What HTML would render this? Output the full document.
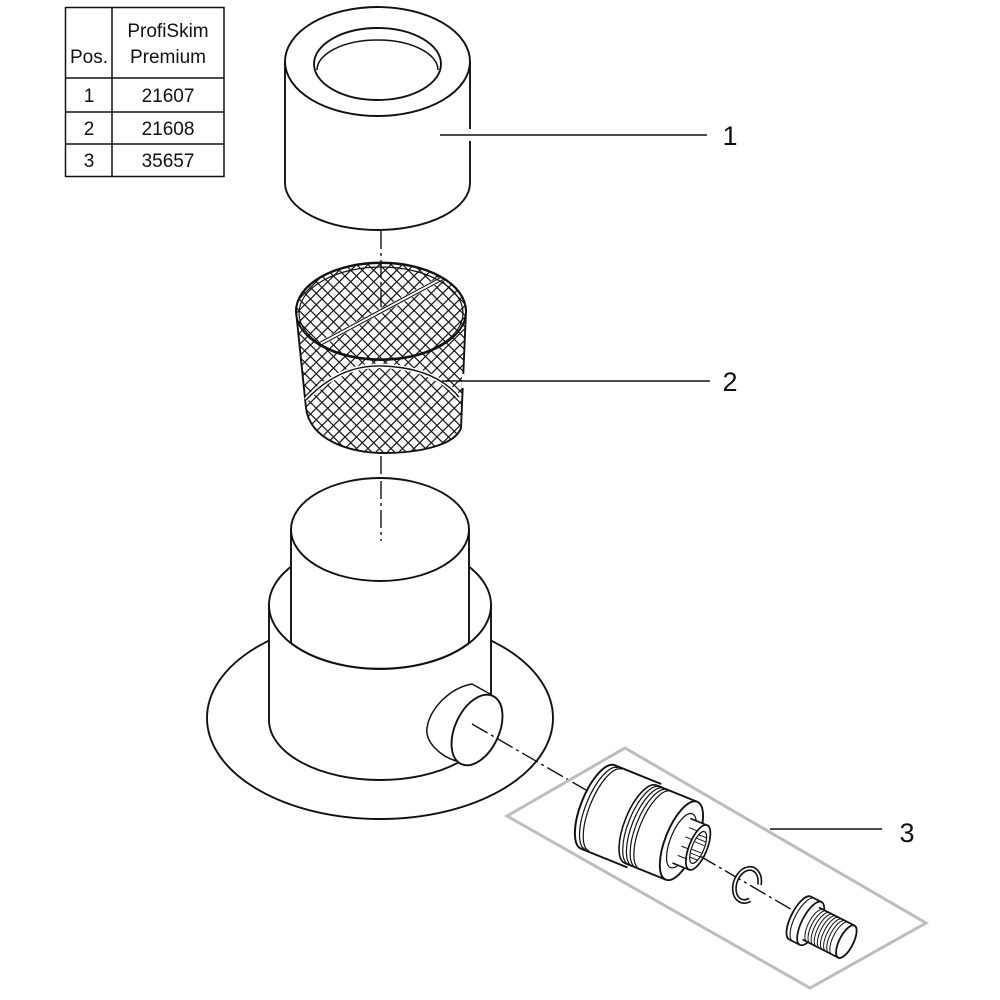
<!DOCTYPE html>
<html><head><meta charset="utf-8"><style>
html,body{margin:0;padding:0;background:#fff;}
svg{display:block;}
text{font-family:"Liberation Sans",Arial,sans-serif;fill:#111;}
</style></head><body>
<svg width="1000" height="1000" viewBox="0 0 1000 1000" xmlns="http://www.w3.org/2000/svg">
<defs>
<pattern id="h" width="11.5" height="11.5" patternUnits="userSpaceOnUse">
<path d="M-1,-1 L12.5,12.5 M12.5,-1 L-1,12.5" stroke="#1a1a1a" stroke-width="1.25" fill="none"/>
</pattern>
</defs>
<rect width="1000" height="1000" fill="#fff"/>

<!-- Table -->
<g stroke="#111" stroke-width="1.5" fill="none">
<rect x="65.5" y="7.5" width="158.5" height="169"/>
<line x1="112" y1="7.5" x2="112" y2="176.5"/>
<line x1="65.5" y1="78" x2="224" y2="78"/>
<line x1="65.5" y1="112" x2="224" y2="112"/>
<line x1="65.5" y1="144" x2="224" y2="144"/>
</g>
<g font-size="19" text-anchor="middle">
<text x="89" y="63">Pos.</text>
<text x="168" y="37">ProfiSkim</text>
<text x="168" y="63">Premium</text>
<text x="89" y="102">1</text><text x="168" y="102">21607</text>
<text x="89" y="135">2</text><text x="168" y="135">21608</text>
<text x="89" y="167">3</text><text x="168" y="167">35657</text>
</g>

<!-- Axis vertical -->
<g stroke="#111" stroke-width="1.4" stroke-dasharray="18 4 3 4" fill="none">
<line x1="381" y1="231" x2="381" y2="314"/>
<line x1="381" y1="456" x2="381" y2="541"/>
</g>

<!-- Part 1: cylinder -->
<g stroke="#111" stroke-width="1.9" fill="#fff">
<path d="M285,61.5 L285,183 A92.5,47 0 0 0 470,183 L470,61.5 Z" stroke="none"/>
<path d="M285,61.5 L285,183 A92.5,47 0 0 0 470,183 L470,141" fill="none"/>
<line x1="470" y1="61.5" x2="470" y2="129"/>
<ellipse cx="377.5" cy="61.5" rx="92.5" ry="54.5"/>
<ellipse cx="377.5" cy="64" rx="63.5" ry="36"/>
<path d="M317,70 A60.5,30 0 0 1 438,70" fill="none" stroke-width="1.5"/>
</g>
<line x1="440" y1="135" x2="707" y2="135" stroke="#111" stroke-width="1.6"/>
<text x="730" y="145" font-size="27" text-anchor="middle">1</text>

<!-- Part 2: mesh -->
<g stroke="#111" fill="none">
<path d="M296,311 A85,48.5 0 0 1 466,311 L461,428 C455,445 420,453 383,453 C350,453 310,440 306,408 Z" fill="url(#h)" stroke-width="1.9"/>
<line x1="464" y1="374" x2="464" y2="388" stroke="#fff" stroke-width="4"/>
<path d="M306,400 Q340,364 383,366 Q435,368 459,397" stroke="#fff" stroke-width="4.5"/>
<path d="M306,400 Q340,364 383,366 Q435,368 459,397" stroke-width="1.4"/>
<line x1="318" y1="345" x2="443" y2="278" stroke="#fff" stroke-width="5"/>
<line x1="317.3" y1="343.7" x2="442.3" y2="276.7" stroke-width="1.1"/>
<line x1="318.7" y1="346.3" x2="443.7" y2="279.3" stroke-width="1.1"/>
<ellipse cx="381" cy="311.5" rx="85" ry="48.5" stroke-width="1.9"/>
<ellipse cx="381" cy="313" rx="82" ry="46" stroke-width="1.2"/>
</g>
<line x1="442" y1="381" x2="710" y2="381" stroke="#111" stroke-width="1.6"/>
<text x="730" y="391" font-size="27" text-anchor="middle">2</text>

<!-- Base -->
<g stroke="#111" stroke-width="1.9" fill="#fff">
<ellipse cx="380" cy="718" rx="173" ry="101"/>
<path d="M269,605 L269,720 A111,60 0 0 0 491,720 L491,605 Z"/>
<ellipse cx="380" cy="605" rx="111" ry="64"/>
<path d="M291,529.5 L291,643 A111,64 0 0 0 469,643 L469,529.5 Z"/>
<ellipse cx="380" cy="529.5" rx="89" ry="51.5"/>
</g>
<line x1="381" y1="481" x2="381" y2="541" stroke="#111" stroke-width="1.4" stroke-dasharray="18 4 3 4"/>
<!-- stub -->
<g stroke="#111" stroke-width="1.9">
<path d="M472,684 L494,697 L505,740 L462,766 L455,760 C438,755 424,740 427,728 C430,708 450,688 472,684 Z" fill="#fff" stroke="none"/>
<path d="M492,695 L472,684 C450,688 430,708 427,728 C425,742 440,756 456,761" fill="none" stroke-width="1.5"/>
<ellipse cx="477" cy="730" rx="22" ry="37.5" transform="rotate(25 477 730)" fill="#fff"/>
</g>

<!-- axis diagonal -->
<g stroke="#111" stroke-width="1.4" stroke-dasharray="18 4 3 4" fill="none">
<line x1="472" y1="724" x2="586" y2="790"/>
</g>

<!-- Box 3 -->
<polygon points="625,748 926,923 810,988 507,816" fill="none" stroke="#bdbdbd" stroke-width="3"/>
<line x1="770" y1="829" x2="882" y2="829" stroke="#111" stroke-width="1.6"/>
<text x="907" y="842" font-size="27" text-anchor="middle">3</text>

<!-- Part 3: connector -->
<g transform="translate(598,807) rotate(22)" stroke="#111" fill="#fff">
<!-- section A -->
<ellipse cx="0" cy="0" rx="17" ry="45" stroke-width="2"/>
<rect x="0" y="-45" width="50" height="90" stroke="none"/>
<line x1="0" y1="-45" x2="50" y2="-45" stroke-width="1.9"/>
<line x1="0" y1="45" x2="50" y2="45" stroke-width="1.9"/>
<path d="M4,-44 A16,44 0 0 0 4,44" fill="none" stroke-width="1.2"/>
<path d="M8,-44 A16,44 0 0 0 8,44" fill="none" stroke-width="1.2"/>
<!-- section B -->
<ellipse cx="46" cy="0" rx="16" ry="42" stroke-width="1.6"/>
<rect x="46" y="-42" width="44" height="84" stroke="none"/>
<line x1="46" y1="-42" x2="90" y2="-42" stroke-width="1.9"/>
<line x1="46" y1="42" x2="90" y2="42" stroke-width="1.9"/>
<path d="M50,-42 A16,42 0 0 0 50,42" fill="none" stroke-width="1.2"/>
<path d="M54,-42 A16,42 0 0 0 54,42" fill="none" stroke-width="1.2"/>
<path d="M58,-42 A16,42 0 0 0 58,42" fill="none" stroke-width="1.2"/>
<path d="M62,-42 A16,42 0 0 0 62,42" fill="none" stroke-width="1.2"/>
<ellipse cx="90" cy="0" rx="16" ry="42" stroke-width="1.9"/>
<ellipse cx="90" cy="0" rx="11" ry="29" stroke-width="1.2"/>
<!-- nub -->
<rect x="90" y="-24" width="18" height="48" stroke="none"/>
<line x1="90" y1="-24" x2="108" y2="-24" stroke-width="1.6"/>
<line x1="90" y1="24" x2="108" y2="24" stroke-width="1.6"/>
<line x1="92" y1="-15" x2="106" y2="-15" stroke-width="1"/>
<line x1="92" y1="-5" x2="106" y2="-5" stroke-width="1"/>
<line x1="92" y1="5" x2="106" y2="5" stroke-width="1"/>
<line x1="92" y1="15" x2="106" y2="15" stroke-width="1"/>
<ellipse cx="108" cy="0" rx="9" ry="24" stroke-width="1.7"/>
<ellipse cx="108" cy="0" rx="6" ry="17" stroke-width="1.2"/>
<g stroke-width="0.9" fill="none">
<line x1="104" y1="-12" x2="112" y2="-12"/><line x1="103" y1="-8" x2="113" y2="-8"/>
<line x1="103" y1="-4" x2="113" y2="-4"/><line x1="103" y1="4" x2="113" y2="4"/>
<line x1="103" y1="8" x2="113" y2="8"/><line x1="104" y1="12" x2="112" y2="12"/>
</g>
</g>

<!-- axis through part, clip, plug -->
<g stroke="#111" stroke-width="1.4" stroke-dasharray="18 4 3 4" fill="none">
<line x1="700" y1="856" x2="794" y2="911"/>
</g>

<!-- C ring -->
<g transform="translate(747,885) rotate(20)" fill="none">
<path d="M11.6,-4.5 A12,17 0 1 0 7.7,13" stroke="#111" stroke-width="5"/>
<path d="M11.6,-4.5 A12,17 0 1 0 7.7,13" stroke="#fff" stroke-width="1.8"/>
</g>

<!-- plug -->
<g transform="translate(800,918) rotate(27)" stroke="#111" fill="#fff">
<ellipse cx="0" cy="0" rx="9" ry="24" stroke-width="1.8"/>
<rect x="0" y="-24" width="12" height="48" stroke="none"/>
<line x1="0" y1="-24" x2="12" y2="-24" stroke-width="1.7"/>
<line x1="0" y1="24" x2="12" y2="24" stroke-width="1.7"/>
<path d="M4,-24 A9,24 0 0 0 4,24" fill="none" stroke-width="1.1"/>
<ellipse cx="12" cy="0" rx="9" ry="24" stroke-width="1.7"/>
<rect x="12" y="-18" width="40" height="36" stroke="none"/>
<line x1="12" y1="-18" x2="52" y2="-18" stroke-width="1.7"/>
<line x1="12" y1="18" x2="52" y2="18" stroke-width="1.7"/>
<g fill="none" stroke-width="1">
<path d="M17,-18 A7,18 0 0 0 17,18"/><path d="M20.5,-18 A7,18 0 0 0 20.5,18"/>
<path d="M24,-18 A7,18 0 0 0 24,18"/><path d="M27.5,-18 A7,18 0 0 0 27.5,18"/>
<path d="M31,-18 A7,18 0 0 0 31,18"/><path d="M34.5,-18 A7,18 0 0 0 34.5,18"/>
<path d="M38,-18 A7,18 0 0 0 38,18"/><path d="M41.5,-18 A7,18 0 0 0 41.5,18"/>
<path d="M45,-18 A7,18 0 0 0 45,18"/>
</g>
<ellipse cx="52" cy="0" rx="7" ry="18" stroke-width="1.8"/>
</g>
</svg>
</body></html>
